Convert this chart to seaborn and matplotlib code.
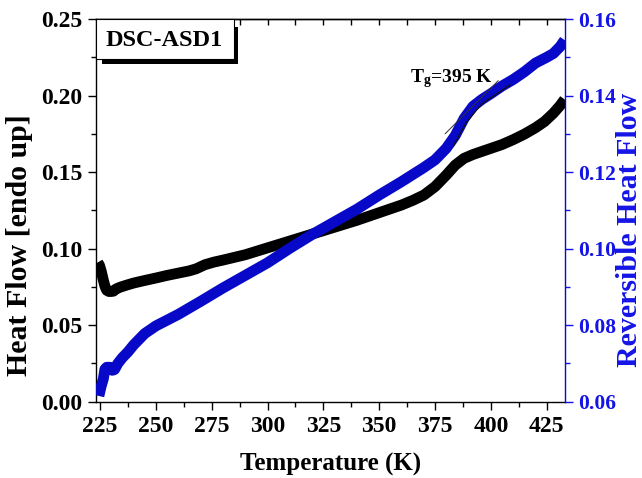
import matplotlib
matplotlib.use("Agg")
import matplotlib.pyplot as plt
from matplotlib.patches import Rectangle
from matplotlib.ticker import MultipleLocator, FormatStrFormatter
import seaborn as sns
import pandas as pd

# Total heat flow (left axis)
temp_hf = [224.0, 224.8, 225.6, 226.4, 227.2, 228.0, 229.0, 230.0, 231.0, 232.0,
           234.0, 237.0, 240.0, 245.0, 250.0, 255.0, 260.0, 265.0, 268.0, 272.0,
           276.0, 280.0, 290.0, 300.0, 310.0, 320.0, 330.0, 340.0, 350.0, 360.0,
           365.0, 370.0, 375.0, 380.0, 384.0, 388.0, 392.0, 396.0, 400.0, 405.0,
           410.0, 415.0, 420.0, 424.0, 428.0, 431.0, 433.0]
heat_flow = [0.091, 0.089, 0.085, 0.080, 0.0755, 0.0728, 0.0720, 0.0720, 0.0722, 0.0735,
             0.0748, 0.0762, 0.0775, 0.0792, 0.0808, 0.0825, 0.0840, 0.0855, 0.0868, 0.0895,
             0.0912, 0.0925, 0.0960, 0.1005, 0.1050, 0.1095, 0.1140, 0.1185, 0.1235, 0.1285,
             0.1315, 0.1350, 0.1405, 0.1480, 0.1545, 0.1590, 0.1615, 0.1635, 0.1655, 0.1680,
             0.1712, 0.1748, 0.1790, 0.1830, 0.1885, 0.1935, 0.1975]

# Reversible heat flow (right axis)
temp_rev = [224.5, 225.5, 226.5, 227.2, 228.0, 229.5, 230.5, 231.5, 233.0, 235.0,
            237.5, 240.0, 245.0, 250.0, 255.0, 260.0, 270.0, 280.0, 290.0, 300.0,
            310.0, 320.0, 330.0, 340.0, 350.0, 360.0, 370.0, 375.0, 380.0, 384.0,
            388.0, 392.0, 396.0, 400.0, 405.0, 410.0, 415.0, 420.0, 425.0, 428.0,
            431.0, 433.0]
rev_flow = [0.0615, 0.0640, 0.0660, 0.0685, 0.0690, 0.0690, 0.0682, 0.0684, 0.0700, 0.0715,
            0.0730, 0.0748, 0.0778, 0.0798, 0.0813, 0.0828, 0.0862, 0.0897, 0.0930, 0.0963,
            0.1001, 0.1037, 0.1070, 0.1103, 0.1140, 0.1175, 0.1212, 0.1232, 0.1262, 0.1295,
            0.1340, 0.1372, 0.1390, 0.1405, 0.1425, 0.1442, 0.1462, 0.1485, 0.1500, 0.1510,
            0.1528, 0.1545]

# Glass-transition construction lines (on the reversible curve)
tangent_t = [379.5, 403.3]
tangent_v = [0.1300, 0.1439]
fit_t = [383.2, 389.0, 395.9, 408.6]
fit_v = [0.1268, 0.1330, 0.1378, 0.1428]

x_ticks = [225, 250, 275, 300, 325, 350, 375, 400, 425]

BLUE = "#0808c8"
TICK_BLUE = "#1414e6"

sns.set_theme(style="ticks")
plt.rcParams["font.family"] = ["Liberation Serif", "DejaVu Serif"]
plt.rcParams["font.weight"] = "bold"
plt.rcParams["text.color"] = "black"
plt.rcParams["axes.labelcolor"] = "black"
plt.rcParams["xtick.color"] = "black"
plt.rcParams["ytick.color"] = "black"
plt.rcParams["mathtext.fontset"] = "custom"
plt.rcParams["mathtext.rm"] = "Liberation Serif:bold"
plt.rcParams["mathtext.it"] = "Liberation Serif:bold"
plt.rcParams["mathtext.bf"] = "Liberation Serif:bold"

df_hf = pd.DataFrame({"T": temp_hf, "HF": heat_flow})
df_rev = pd.DataFrame({"T": temp_rev, "RHF": rev_flow})

fig = plt.figure(figsize=(6.42, 4.78), dpi=100)
ax = fig.add_axes([0.1495, 0.1596, 0.7313, 0.8006])
ax2 = ax.twinx()

sns.lineplot(data=df_hf, x="T", y="HF", ax=ax, color="black", lw=7.8,
             solid_capstyle="butt", sort=False)
sns.lineplot(data=df_rev, x="T", y="RHF", ax=ax2, color=BLUE, lw=7.8,
             solid_capstyle="butt", sort=False)
ax2.plot(tangent_t, tangent_v, color="#333333", lw=0.7)
ax2.plot(fit_t, fit_v, color="#111111", lw=0.9)

ax.set_xlim(223.2, 433.4)
ax.set_ylim(0, 0.25)
ax2.set_ylim(0.06, 0.16)

fs_tick = 17
fs_xlab = 18
fs_ylab = 21.5

ax.set_xticks(x_ticks)
ax.xaxis.set_minor_locator(MultipleLocator(12.5))
ax.yaxis.set_major_locator(MultipleLocator(0.05))
ax.yaxis.set_minor_locator(MultipleLocator(0.025))
ax.yaxis.set_major_formatter(FormatStrFormatter("%.2f"))
ax2.yaxis.set_major_locator(MultipleLocator(0.02))
ax2.yaxis.set_minor_locator(MultipleLocator(0.01))
ax2.yaxis.set_major_formatter(FormatStrFormatter("%.2f"))

ax.tick_params(axis="both", which="major", direction="out", length=6, width=1,
               labelsize=fs_tick, pad=4, colors="black")
ax.tick_params(axis="both", which="minor", direction="out", length=3.5, width=1,
               colors="black")
ax.tick_params(axis="x", top=False)
ax2.tick_params(axis="y", which="major", direction="out", length=6, width=1,
                labelsize=15.5, pad=3, colors=TICK_BLUE)
ax2.tick_params(axis="y", which="minor", direction="out", length=3.5, width=1,
                colors=TICK_BLUE)

for lab in ax.get_xticklabels() + ax.get_yticklabels() + ax2.get_yticklabels():
    lab.set_fontweight("bold")

top = ax.secondary_xaxis("top")
top.xaxis.set_major_locator(MultipleLocator(12.5))
top.tick_params(axis="x", direction="in", length=4.5, width=1, labeltop=False,
                colors="black")

for s in ["left", "bottom", "top"]:
    ax.spines[s].set_color("black")
    ax.spines[s].set_linewidth(1)
ax.spines["right"].set_visible(False)
ax2.spines["right"].set_color(BLUE)
ax2.spines["right"].set_linewidth(1)
for s in ["left", "bottom", "top"]:
    ax2.spines[s].set_visible(False)
top.spines["top"].set_color("black")
top.spines["top"].set_linewidth(1)

ax.set_xlabel("Temperature (K)", fontsize=fs_xlab, fontweight="bold", labelpad=12,
              color="black")
ax.set_ylabel("Heat Flow [endo up]", fontsize=fs_ylab, fontweight="bold",
              color="black")
ax.yaxis.label.set_va("center")
ax.yaxis.set_label_coords(-0.162, 0.41)
ax2.set_ylabel("Reversible Heat Flow", fontsize=fs_ylab, fontweight="bold",
               color=TICK_BLUE)
ax2.yaxis.label.set_va("center")
ax2.yaxis.set_label_coords(1.136, 0.449)

# Sample tag with drop shadow in the upper-left corner
ax2.add_patch(Rectangle((0.012, 0.8824), 0.2915, 0.0976, transform=ax.transAxes,
                        facecolor="black", edgecolor="none", zorder=5, clip_on=False))
ax2.add_patch(Rectangle((0.0, 0.8955), 0.294, 0.1045, transform=ax.transAxes,
                        facecolor="white", edgecolor="black", lw=0.8, zorder=6,
                        clip_on=False))
ax2.text(0.145, 0.945, "DSC-ASD1", transform=ax.transAxes, ha="center", va="center",
         fontsize=17.5, fontweight="bold", zorder=7, color="black")

ax2.text(363.8, 0.1435, r"T$_{\mathrm{g}}$=395 K", fontsize=14, fontweight="bold",
         ha="left", va="baseline", zorder=7, color="black")

fig.savefig("out.png", dpi=100)
